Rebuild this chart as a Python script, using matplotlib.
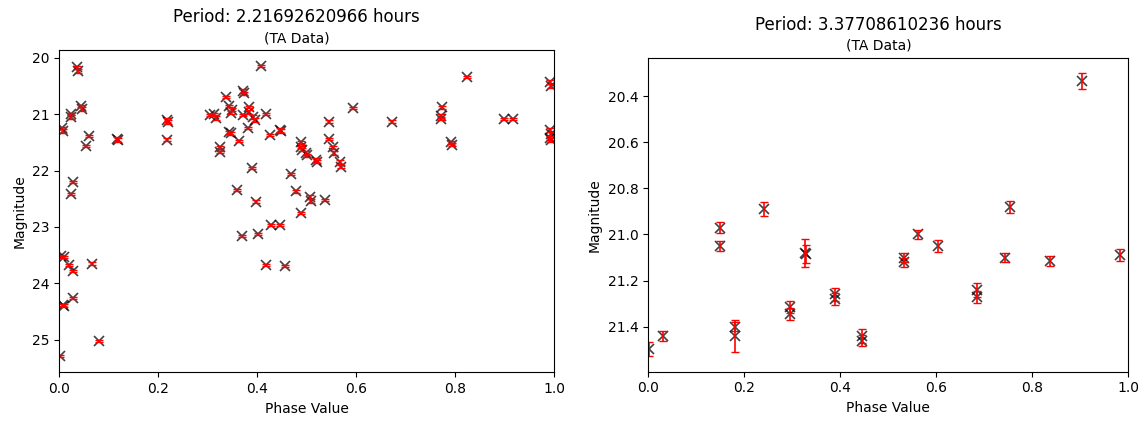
import matplotlib
matplotlib.use("Agg")
import matplotlib.pyplot as plt

# Folded light curve, first period
phase_a = [0.002, 0.003, 0.009, 0.007, 0.010, 0.006, 0.007, 0.020, 0.028, 0.028,
           0.023, 0.028, 0.023, 0.023, 0.035, 0.037, 0.044, 0.045, 0.053, 0.060,
           0.067, 0.080, 0.116, 0.118, 0.218, 0.219, 0.217, 0.305, 0.312, 0.316,
           0.325, 0.325, 0.337, 0.343, 0.349, 0.344, 0.347, 0.347, 0.360, 0.364,
           0.370, 0.371, 0.373, 0.372, 0.382, 0.384, 0.384, 0.390, 0.392, 0.396,
           0.397, 0.401, 0.408, 0.418, 0.418, 0.426, 0.427, 0.446, 0.448, 0.447,
           0.457, 0.468, 0.478, 0.488, 0.488, 0.490, 0.488, 0.499, 0.501, 0.507,
           0.508, 0.519, 0.521, 0.537, 0.546, 0.546, 0.554, 0.556, 0.568, 0.569,
           0.594, 0.672, 0.771, 0.772, 0.773, 0.792, 0.793, 0.824, 0.898, 0.917,
           0.992, 0.993, 0.992, 0.993, 0.992, 0.994]
mag_a = [25.29, 23.52, 23.53, 24.38, 24.40, 21.24, 21.30, 23.67, 23.78, 24.26,
         22.42, 22.20, 20.99, 21.05, 20.17, 20.23, 20.86, 20.91, 21.57, 21.39,
         23.65, 25.03, 21.44, 21.46, 21.10, 21.14, 21.45, 21.01, 20.99, 21.07,
         21.59, 21.67, 20.70, 20.86, 20.92, 21.32, 21.34, 20.97, 22.34, 21.47,
         23.16, 20.59, 20.63, 21.02, 21.25, 20.87, 20.96, 21.95, 21.05, 21.10,
         22.55, 23.13, 20.15, 20.99, 23.67, 21.37, 22.97, 21.28, 21.30, 22.97,
         23.70, 22.06, 22.37, 21.50, 21.58, 21.63, 22.75, 21.69, 21.73, 22.47,
         22.54, 21.81, 21.84, 22.52, 21.13, 21.44, 21.59, 21.69, 21.85, 21.93,
         20.89, 21.13, 21.03, 21.08, 20.88, 21.50, 21.54, 20.34, 21.09, 21.09,
         20.43, 20.50, 21.28, 21.35, 21.42, 21.46]
err_a = [0.02, 0.03, 0.02, 0.02, 0.03, 0.02, 0.03, 0.02, 0.02, 0.02,
         0.02, 0.02, 0.02, 0.03, 0.03, 0.03, 0.02, 0.03, 0.02, 0.02,
         0.02, 0.02, 0.03, 0.03, 0.03, 0.03, 0.02, 0.02, 0.02, 0.03,
         0.02, 0.02, 0.02, 0.02, 0.03, 0.03, 0.03, 0.02, 0.02, 0.02,
         0.02, 0.03, 0.03, 0.02, 0.02, 0.02, 0.03, 0.02, 0.03, 0.03,
         0.02, 0.02, 0.02, 0.02, 0.02, 0.02, 0.02, 0.03, 0.03, 0.02,
         0.02, 0.02, 0.02, 0.02, 0.02, 0.03, 0.02, 0.03, 0.03, 0.04,
         0.04, 0.03, 0.03, 0.02, 0.02, 0.02, 0.03, 0.03, 0.03, 0.03,
         0.02, 0.02, 0.03, 0.03, 0.02, 0.03, 0.03, 0.02, 0.02, 0.02,
         0.03, 0.03, 0.03, 0.03, 0.03, 0.03]

# Folded light curve, second period
phase_b = [0.003, 0.032, 0.149, 0.149, 0.181, 0.181, 0.241, 0.295, 0.295, 0.327,
           0.328, 0.389, 0.389, 0.445, 0.446, 0.534, 0.534, 0.563, 0.605, 0.686,
           0.686, 0.743, 0.754, 0.837, 0.905, 0.984]
mag_b = [21.495, 21.44, 20.97, 21.05, 21.40, 21.44, 20.89, 21.315, 21.345, 21.08,
         21.085, 21.26, 21.28, 21.44, 21.46, 21.10, 21.12, 21.00, 21.05, 21.24,
         21.27, 21.10, 20.88, 21.115, 20.335, 21.09]
err_b = [0.03, 0.02, 0.025, 0.02, 0.02, 0.07, 0.03, 0.025, 0.025, 0.06,
         0.04, 0.03, 0.025, 0.03, 0.025, 0.02, 0.02, 0.02, 0.025, 0.03,
         0.025, 0.02, 0.025, 0.02, 0.035, 0.025]

periods = ["2.21692620966", "3.37708610236"]

fig = plt.figure(figsize=(11.47, 4.21), dpi=100)
ax1 = fig.add_axes([0.0517, 0.1157, 0.4313, 0.7656])
ax2 = fig.add_axes([0.565, 0.1171, 0.4185, 0.7444])

for ax, ph, mg, er in [(ax1, phase_a, mag_a, err_a), (ax2, phase_b, mag_b, err_b)]:
    # black crosses first, red error bars drawn over them
    ax.plot(ph, mg, "x", color="k", ms=7, mew=1.2, alpha=0.75)
    ax.errorbar(ph, mg, yerr=er, fmt="none", ecolor="r", capsize=3, elinewidth=1.2)
    ax.set_xlim(0, 1)
    ax.set_xlabel("Phase Value", fontsize=10)
    ax.set_ylabel("Magnitude", fontsize=10)
    ax.tick_params(labelsize=10)

ax1.set_ylim(25.58, 19.86)
ax1.set_yticks([20, 21, 22, 23, 24, 25])
ax2.set_ylim(21.595, 20.236)
ax2.set_yticks([20.4, 20.6, 20.8, 21.0, 21.2, 21.4])

ax1.text(0.48, 1.102, "Period: %s hours" % periods[0], transform=ax1.transAxes,
         ha="center", va="center", fontsize=12)
ax1.text(0.48, 1.037, "(TA Data)", transform=ax1.transAxes,
         ha="center", va="center", fontsize=10)
ax2.text(0.48, 1.106, "Period: %s hours" % periods[1], transform=ax2.transAxes,
         ha="center", va="center", fontsize=12)
ax2.text(0.48, 1.042, "(TA Data)", transform=ax2.transAxes,
         ha="center", va="center", fontsize=10)

fig.savefig("out.png", dpi=100)
